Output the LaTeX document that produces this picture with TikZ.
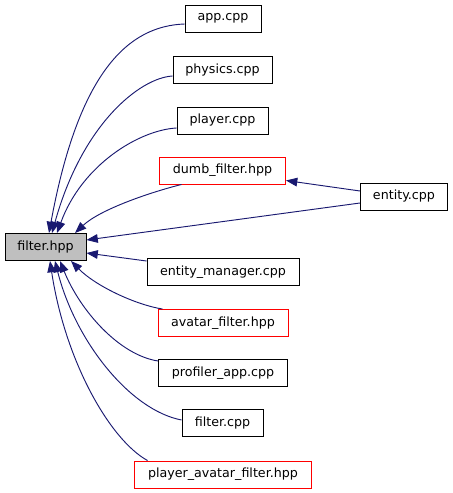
\documentclass[tikz,border=0pt]{standalone}
\usepackage{fontspec}
\setmainfont{DejaVu Sans}
\usetikzlibrary{arrows.meta,calc}
\definecolor{midnight}{RGB}{25,25,112}

\begin{document}
\begin{tikzpicture}[x=0.75pt,y=-0.75pt,>={Triangle[length=8.5pt,width=6.5pt]},font=\fontsize{9.5}{11}\selectfont,
  file/.style={draw=black,line width=0.7pt,minimum height=20.25pt,inner sep=0pt,minimum width=#1},
  dep/.style={->,draw=midnight,fill=none,line width=0.7pt}]
\useasboundingbox (0,0) rectangle (453,493);
% the header and the files that include it
\node[file=60.75pt,fill=black!25] (filterhpp) at (45.5,247) {filter.hpp};
\node[file=57pt] (app) at (223,18.5) {app.cpp};
\node[file=74.25pt] (physics) at (222.5,70) {physics.cpp};
\node[file=68.25pt] (player) at (222.5,120.5) {player.cpp};
\node[file=94.5pt,draw=red] (dumbfilter) at (222.5,170.5) {dumb\_filter.hpp};
\node[file=65.25pt] (entity) at (404,196.5) {entity.cpp};
\node[file=114pt] (entitymanager) at (223,272) {entity\_manager.cpp};
\node[file=97.5pt,draw=red] (avatarfilter) at (223,323) {avatar\_filter.hpp};
\node[file=96.75pt] (profilerapp) at (223,373) {profiler\_app.cpp};
\node[file=60.75pt] (filtercpp) at (222.5,423) {filter.cpp};
\node[file=132.75pt,draw=red] (playeravatar) at (223,474.5) {player\_avatar\_filter.hpp};
% upper edges
\draw[dep] ($(app.west)+(0,5.5)$) .. controls +(-55,2) and +(30,-163.5) .. ($(filterhpp.north)+(3.5,0)$);
\draw[dep] ($(physics.west)+(0,6)$) .. controls +(-33,2) and +(30,-108.5) .. ($(filterhpp.north)+(6.5,0)$);
\draw[dep] ($(player.west)+(0,7.5)$) .. controls +(-37,2) and +(25,-68.5) .. ($(filterhpp.north)+(11.5,0)$);
\draw[dep] ($(dumbfilter.south west)+(22.5,0)$) .. controls +(-32,8) and +(25,-23.5) .. ($(filterhpp.north)+(29.5,0)$);
% entity.cpp
\draw[dep] ($(entity.west)+(0,-5.5)$) -- ($(dumbfilter.east)+(0,10)$);
\draw[dep] ($(entity.west)+(0,6.5)$) -- ($(filterhpp.east)+(0,-7)$);
\draw[dep] ($(entitymanager.west)+(0,-11)$) -- ($(filterhpp.east)+(0,6)$);
% lower edges
\draw[dep] ($(avatarfilter.north west)+(5,0)$) .. controls +(-28,-4.5) and +(24,24.5) .. ($(filterhpp.south)+(25.5,0)$);
\draw[dep] ($(profilerapp.west)+(0,-12)$) .. controls +(-39,-6) and +(20,49.5) .. ($(filterhpp.south)+(14.5,0)$);
\draw[dep] ($(filtercpp.west)+(0,-3)$) .. controls +(-52,-10) and +(20,79.5) .. ($(filterhpp.south)+(9.5,0)$);
\draw[dep] ($(playeravatar.north west)+(13.5,0)$) .. controls +(-38,-21) and +(15,99.5) .. ($(filterhpp.south)+(4.5,0)$);
\end{tikzpicture}
\end{document}
